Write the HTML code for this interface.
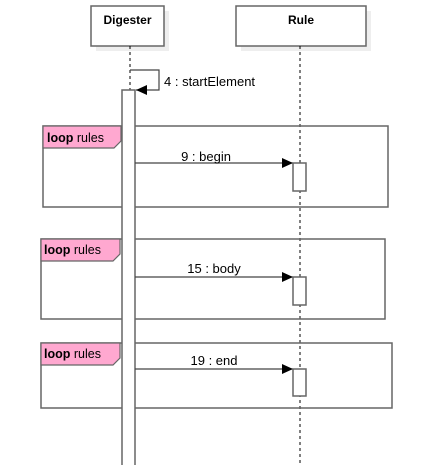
<!DOCTYPE html>
<html><head><style>body{margin:0;background:#fff}svg{display:block}</style></head><body>
<svg width="430" height="465" xmlns="http://www.w3.org/2000/svg" font-family="Liberation Sans, sans-serif" font-size="12">
<defs><marker id="a" markerWidth="12" markerHeight="10" refX="11" refY="5" orient="auto" markerUnits="userSpaceOnUse"><path d="M0,0 L11,5 L0,10 z" fill="#000"/></marker></defs>
<rect x="96" y="11" width="73" height="40" fill="#eee"/>
<rect x="91" y="6" width="73" height="40" fill="#fff" stroke="#666" stroke-width="1.5"/>
<text x="127.5" y="24" text-anchor="middle" font-weight="bold" font-size="12">Digester</text>
<rect x="241" y="11" width="130" height="40" fill="#eee"/>
<rect x="236" y="6" width="130" height="40" fill="#fff" stroke="#666" stroke-width="1.5"/>
<text x="301" y="24" text-anchor="middle" font-weight="bold" font-size="12">Rule</text>
<line x1="130" y1="46" x2="130" y2="465" stroke="#000" stroke-dasharray="3,3"/>
<line x1="300" y1="46" x2="300" y2="465" stroke="#000" stroke-dasharray="3,3"/>
<path d="M130,70 H159 V90 H136" fill="none" stroke="#444" stroke-width="1.2" marker-end="url(#a)"/>
<text x="164" y="86" font-size="13">4 : startElement</text>
<g stroke="#666" stroke-width="1.5" fill="none">
<rect x="43" y="126" width="345" height="81"/>
<rect x="41" y="239" width="344" height="80"/>
<rect x="41" y="343" width="351" height="65"/>
</g>
<g fill="#ffa8d0" stroke="#666" stroke-width="1.2">
<path d="M43,126 H121 V141 L114,148 H43 z"/>
<path d="M41,239 H120 V254 L113,261 H41 z"/>
<path d="M41,343 H120 V358 L113,365 H41 z"/>
</g>
<g font-size="12.5"><text x="47" y="142"><tspan font-weight="bold">loop</tspan> rules</text>
<text x="44" y="254"><tspan font-weight="bold">loop</tspan> rules</text>
<text x="44" y="358"><tspan font-weight="bold">loop</tspan> rules</text></g>
<rect x="122" y="90" width="13" height="380" fill="#fff" stroke="#666" stroke-width="1.5"/>
<g stroke="#444" stroke-width="1.2">
<line x1="135" y1="163" x2="293" y2="163" marker-end="url(#a)"/>
<line x1="135" y1="277" x2="293" y2="277" marker-end="url(#a)"/>
<line x1="135" y1="369" x2="293" y2="369" marker-end="url(#a)"/>
</g>
<g fill="#fff" stroke="#666" stroke-width="1.5">
<rect x="293" y="163" width="13" height="28"/>
<rect x="293" y="277" width="13" height="28"/>
<rect x="293" y="369" width="13" height="27"/>
</g>
<g font-size="13">
<text x="206" y="161" text-anchor="middle">9 : begin</text>
<text x="214" y="273" text-anchor="middle">15 : body</text>
<text x="214" y="365" text-anchor="middle">19 : end</text>
</g>
</svg>
</body></html>
